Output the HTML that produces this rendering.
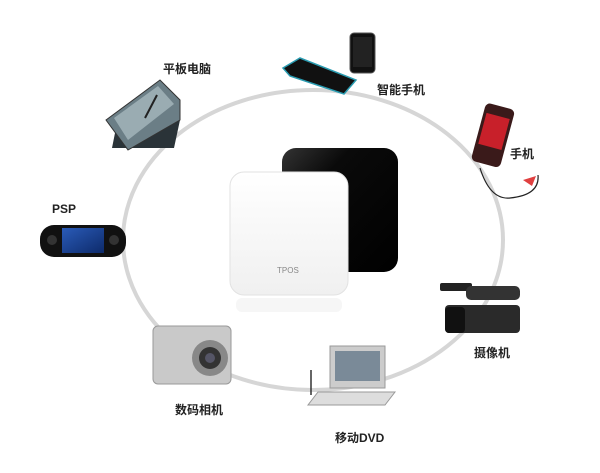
<!DOCTYPE html>
<html><head><meta charset="utf-8"><style>
html,body{margin:0;padding:0;background:#fff;}
svg{display:block}
text{font-family:"Liberation Sans","Noto Sans CJK SC",sans-serif;font-size:12px;fill:#222;font-weight:bold}
</style></head><body>
<svg width="600" height="473" viewBox="0 0 600 473">
<defs>
<linearGradient id="w" x1="0" y1="0" x2="0" y2="1"><stop offset="0" stop-color="#ffffff"/><stop offset="1" stop-color="#f0f0f0"/></linearGradient>
<linearGradient id="b" x1="0" y1="0" x2="1" y2="1"><stop offset="0" stop-color="#333"/><stop offset="0.3" stop-color="#0a0a0a"/><stop offset="1" stop-color="#000"/></linearGradient>
<linearGradient id="scr" x1="0" y1="0" x2="1" y2="1"><stop offset="0" stop-color="#2a5bb8"/><stop offset="1" stop-color="#0d2a6a"/></linearGradient>
</defs>
<ellipse cx="313" cy="240" rx="190" ry="150" fill="none" stroke="#d6d6d6" stroke-width="4"/>
<!-- center power banks -->
<rect x="282" y="148" width="116" height="124" rx="14" fill="url(#b)"/>
<text x="343" y="250" style="font-size:9px;fill:#888;font-weight:normal">S</text>
<rect x="230" y="172" width="118" height="123" rx="14" fill="url(#w)" stroke="#e2e2e2"/>
<text x="277" y="273" style="font-size:8px;fill:#888;font-weight:normal">TPOS</text>
<rect x="236" y="298" width="106" height="14" rx="6" fill="#f6f6f6"/>
<!-- tablet -->
<polygon points="112,148 174,148 180,120 118,118" fill="#2a3338"/>
<polygon points="106,120 160,80 180,100 180,120 128,150" fill="#6b7e86" stroke="#333"/>
<polygon points="114,118 158,86 174,104 128,140" fill="#9aacb2"/>
<line x1="145" y1="118" x2="157" y2="95" stroke="#222" stroke-width="2"/>
<text x="163" y="73">平板电脑</text>
<!-- smartphones -->
<polygon points="283,68 300,58 356,80 344,94 290,76" fill="#111" stroke="#2a9bb0" stroke-width="1.5"/>
<rect x="350" y="33" width="25" height="40" rx="4" fill="#111" stroke="#555"/>
<rect x="353" y="37" width="19" height="30" fill="#222"/>
<text x="377" y="94">智能手机</text>
<!-- mobile phone -->
<g transform="rotate(15 492 135)"><rect x="478" y="105" width="30" height="60" rx="5" fill="#3a1a1a"/><rect x="481" y="115" width="24" height="32" fill="#c8202a"/></g>
<path d="M480 168 Q490 200 510 198 Q540 195 538 175" fill="none" stroke="#222" stroke-width="1.2"/>
<polygon points="523,180 536,176 532,186" fill="#e04040"/>
<text x="510" y="158">手机</text>
<!-- PSP -->
<text x="52" y="213">PSP</text>
<rect x="40" y="225" width="86" height="32" rx="14" fill="#111"/>
<rect x="62" y="228" width="42" height="25" fill="url(#scr)"/>
<circle cx="52" cy="240" r="5" fill="#333"/><circle cx="114" cy="240" r="5" fill="#333"/>
<!-- camcorder -->
<rect x="440" y="283" width="32" height="8" rx="2" fill="#222"/>
<rect x="466" y="286" width="54" height="14" rx="5" fill="#333"/>
<rect x="445" y="305" width="75" height="28" rx="4" fill="#2a2a2a"/>
<rect x="445" y="307" width="20" height="26" rx="4" fill="#111"/>
<text x="474" y="357">摄像机</text>
<!-- camera -->
<rect x="153" y="326" width="78" height="58" rx="5" fill="#c9c9c9" stroke="#999"/>
<circle cx="210" cy="358" r="18" fill="#888"/><circle cx="210" cy="358" r="11" fill="#333"/><circle cx="210" cy="358" r="5" fill="#556"/>
<text x="175" y="414">数码相机</text>
<!-- DVD -->
<rect x="330" y="346" width="55" height="42" fill="#ccc" stroke="#999"/>
<rect x="335" y="351" width="45" height="30" fill="#7a8a98"/>
<polygon points="308,405 385,405 395,392 318,392" fill="#ddd" stroke="#999"/>
<line x1="311" y1="370" x2="311" y2="395" stroke="#333" stroke-width="1.5"/>
<text x="335" y="442">移动DVD</text>
</svg>
</body></html>
